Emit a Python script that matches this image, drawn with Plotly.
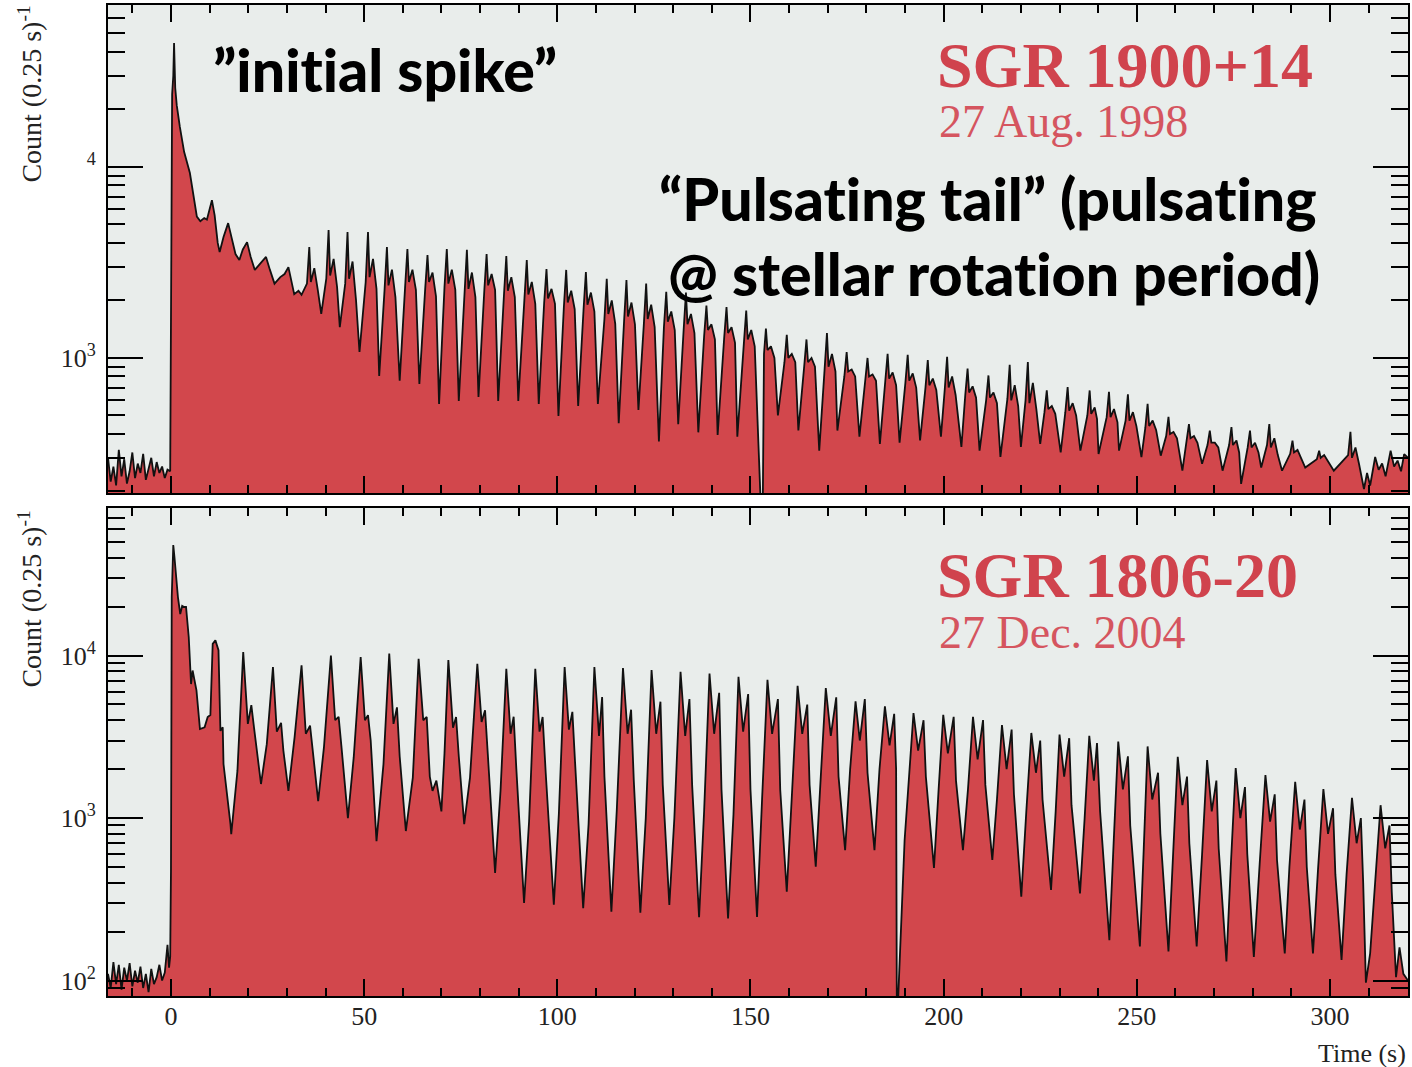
import plotly.graph_objects as go
from plotly.subplots import make_subplots

# ---------------- data ----------------
# SGR 1900+14 (top panel)
top_pre_t = [-16.3, -15.6, -14.9, -14.2, -13.5, -12.8, -12.1, -11.4, -10.7, -10.0, -9.3, -8.6,
             -7.9, -7.2, -6.5, -5.8, -5.1, -4.4, -3.7, -3.0, -2.3, -1.6, -0.9, -0.2]
top_pre_c = [300, 225, 270, 215, 330, 240, 295, 220, 255, 320, 235, 280,
             250, 315, 230, 265, 300, 240, 285, 250, 270, 235, 260, 255]
top_burst_t = [0.0, 0.3, 0.6, 0.8, 1.1, 1.5, 2.3, 3.4, 4.9, 5.8, 6.7, 7.6, 8.6, 9.3, 10.6, 11.3,
               12.1, 12.6, 13.6, 14.8, 15.8, 16.7, 17.7, 18.6, 19.7, 20.6, 21.7, 23.0, 24.6, 25.6,
               26.8, 28.3, 29.4, 30.4, 31.2, 31.9, 33.0, 33.8]
top_burst_c = [1200, 24000, 30000, 44600, 26000, 21000, 16200, 12000, 9300, 7200, 5500, 5200, 5400,
               5300, 6700, 5600, 4000, 3590, 4300, 5080, 4200, 3500, 3260, 3700, 4040, 3400, 2890,
               3100, 3380, 2900, 2450, 2650, 2750, 2990, 2500, 2160, 2250, 2140]
top_pk_t = [35.8, 40.8, 45.7, 51.0, 55.9, 61.2, 66.4, 71.4, 76.6, 81.7, 86.8, 92.1, 97.2, 102.3,
            107.4, 112.8, 117.9, 123.0, 128.2, 133.3, 138.6, 143.8, 148.9, 154.0, 159.4, 164.5,
            169.8, 174.9, 180.3, 185.5, 190.7, 195.9, 200.9, 206.2, 211.6, 217.1, 221.8, 226.7,
            232.1, 237.8, 242.8, 247.7, 252.8, 258.2, 263.5, 268.9, 274.5, 279.3, 284.3, 290.3,
            297.2, 305.3]
top_pk_c = [3810, 4680, 4560, 4560, 3810, 3720, 3460, 3720, 3680, 3500, 3420, 3260, 2920, 2890,
            2820, 2600, 2560, 2450, 2220, 2200, 1880, 1845, 1770, 1425, 1320, 1250, 1350, 1075,
            1000, 1050, 1040, 976, 1015, 880, 810, 920, 953, 676, 705, 676, 664, 645, 576, 492,
            451, 417, 435, 417, 451, 369, 327, 410]
top_rs_t = [35.2, 40.2, 45.1, 50.4, 55.3, 60.6, 65.8, 70.8, 76.0, 81.1, 86.2, 91.5, 96.6, 101.7,
            106.8, 112.2, 117.3, 122.4, 127.6, 132.7, 138.0, 143.2, 148.3, 153.5, 158.8, 163.9,
            169.2, 174.3, 179.7, 184.9, 190.1, 195.3, 200.3, 205.6, 211.0, 216.5, 221.2, 226.1,
            231.5, 237.2, 242.2, 247.1, 252.2, 257.6, 262.9, 268.3, 273.9, 278.7, 283.7, 289.7,
            296.6, 304.7]
top_rs_c = [2450, 2600, 2450, 2500, 2300, 2350, 2300, 2350, 2200, 2250, 2150, 2050, 1950, 1850,
            1800, 1600, 1580, 1500, 1450, 1400, 1300, 1280, 1200, 1050, 950, 900, 880, 800, 760,
            760, 740, 700, 690, 640, 600, 610, 600, 520, 520, 500, 490, 470, 430, 390, 370, 350,
            350, 340, 350, 315, 295, 310]
top_sh1_t = [36.2, 41.2, 46.1, 51.4, 56.3, 61.6, 66.8, 71.8, 77.0, 82.1, 87.2, 92.5, 97.6, 102.7,
             107.8, 113.2, 118.3, 123.4, 128.6, 133.7, 139.0, 144.2, 149.3, 154.4, 159.8, 164.9,
             170.2, 175.3, 180.7, 185.9, 191.1, 196.3, 201.3, 206.6, 212.0, 217.5, 222.2, 227.1,
             232.5, 238.2, 243.2, 248.1, 253.2, 258.6, 263.9, 269.3, 274.9, 279.7, 284.7, 290.7,
             297.6, 305.7]
top_sh1_c = [2500, 2700, 2600, 2650, 2400, 2500, 2500, 2450, 2300, 2400, 2250, 2150, 2050, 1950,
             1900, 1700, 1650, 1600, 1550, 1500, 1400, 1350, 1250, 1100, 1000, 950, 900, 850, 800,
             780, 760, 720, 700, 660, 620, 600, 580, 540, 530, 510, 490, 470, 440, 400, 380, 360,
             350, 340, 340, 320, 300, 300]
top_sp_t = [37.1, 42.1, 47.0, 52.3, 57.2, 62.5, 67.7, 72.7, 77.9, 83.0, 88.1, 93.4, 98.5, 103.6,
            108.7, 114.1, 119.2, 124.3, 129.5, 134.6, 139.9, 145.1, 150.2, 155.3, 160.7, 165.8,
            171.1, 176.2, 181.6, 186.8, 192.0, 197.2, 202.2, 207.5, 212.9, 218.4, 223.1, 228.0,
            233.4, 239.1, 244.1, 249.0, 254.1, 259.5, 264.8, 270.2, 275.8, 280.6, 285.6, 291.6,
            298.5, 306.6]
top_sp_c = [2950, 3300, 3200, 3300, 2900, 2900, 2800, 2900, 2800, 2750, 2650, 2500, 2300, 2250,
            2200, 2000, 1950, 1900, 1750, 1700, 1500, 1450, 1400, 1150, 1050, 1000, 1050, 870, 820,
            840, 830, 780, 800, 710, 660, 720, 740, 560, 580, 550, 540, 520, 470, 410, 390, 360,
            370, 360, 380, 330, 310, 340]
top_sh2_t = [38.0, 43.0, 47.9, 53.2, 58.1, 63.4, 68.6, 73.6, 78.8, 83.9, 89.0, 94.3, 99.4, 104.5,
             109.6, 115.0, 120.1, 125.2, 130.4, 135.5, 140.8, 146.0, 151.1, 156.2, 161.6, 166.7,
             172.0, 177.1, 182.5, 187.7, 192.9, 198.1, 203.1, 208.4, 213.8, 219.3, 224.0, 228.9,
             234.3, 239.7, 245.0, 249.9, 255.0, 260.4, 265.7, 271.1, 276.5, 281.5, 286.5, 292.5,
             299.4, 307.5]
top_sh2_c = [2270, 2350, 2010, 2300, 2085, 2270, 2100, 2270, 2085, 2270, 2085, 1920, 1920, 1800,
             1750, 1510, 1500, 1450, 1400, 1350, 1250, 1200, 1150, 1000, 950, 900, 850, 800, 760,
             720, 700, 680, 640, 620, 580, 560, 540, 510, 500, 480, 460, 440, 420, 380, 360, 340,
             320, 320, 310, 300, 290, 280]
top_tr_t = [38.9, 43.7, 48.8, 53.9, 59.2, 64.3, 69.4, 74.5, 79.6, 84.7, 89.9, 95.2, 100.3, 105.4,
            110.5, 115.9, 121.0, 126.3, 131.3, 136.5, 141.5, 146.6, 151.7, 157.1, 162.4, 167.8,
            172.5, 178.2, 183.5, 188.6, 193.9, 199.3, 204.6, 209.3, 214.7, 220.0, 225.0, 230.3,
            235.4, 240.1, 245.4, 251.2, 256.2, 261.8, 266.9, 272.2, 277.0, 282.2, 287.6, 293.6,
            301.0, 308.8]
top_tr_c = [1700, 1450, 1075, 805, 760, 731, 574, 595, 625, 595, 595, 574, 497, 560, 574, 455,
            535, 365, 450, 408, 395, 387, 540, 500, 417, 327, 417, 387, 355, 360, 370, 387, 342,
            327, 303, 342, 355, 320, 327, 314, 327, 303, 308, 257, 279, 257, 219, 267, 257, 267,
            257, 206]
top_end_t = [152.9, 153.1, 309.6, 310.4, 311.7, 312.6, 313.5, 314.4, 315.7, 316.6, 317.5, 318.4,
             319.2, 320.2]
top_end_c = [100, 100, 250, 215, 303, 260, 280, 240, 327, 270, 290, 255, 314, 300]

# SGR 1806-20 (bottom panel)
bot_pre_t = [-16.3, -15.6, -14.9, -14.2, -13.5, -12.8, -12.1, -11.4, -10.7, -10.0, -9.3, -8.6,
             -7.9, -7.2, -6.5, -5.8, -5.1, -4.4, -3.7, -3.0, -2.3, -1.6, -0.9, -0.5, -0.2]
bot_pre_c = [110, 90, 130, 95, 125, 88, 120, 100, 128, 92, 115, 97, 122, 90, 110, 85, 118, 95,
             105, 125, 100, 112, 166, 120, 140]
bot_burst_t = [0.0, 0.2, 0.6, 0.9, 1.3, 1.8, 2.4, 2.9, 3.4, 3.9, 4.6, 5.2, 5.6, 6.6, 7.5, 8.7,
               9.5, 10.2, 10.8, 11.5, 12.3, 12.8, 13.4, 13.6, 15.4, 15.6, 17.2]
bot_burst_c = [472, 23000, 47900, 40400, 30000, 22900, 18000, 20200, 19900, 19900, 13000, 6680,
               8090, 6100, 3530, 3620, 4190, 4300, 11800, 12400, 10800, 3440, 3620, 2150, 918, 795,
               1950]
bot_pk_t = [18.7, 26.4, 33.8, 41.4, 49.1, 56.5, 64.1, 71.8, 79.3, 86.8, 94.3, 101.9, 109.6, 117.0,
            124.4, 131.9, 139.4, 146.9, 154.4, 162.2, 169.5, 177.2, 184.8, 192.2, 199.9, 207.6,
            215.1, 222.7, 230.0, 237.7, 245.2, 252.8, 260.6, 268.2, 275.6, 283.3, 291.0, 298.3,
            305.7, 313.1]
bot_pk_c = [10500, 8490, 8720, 10000, 9780, 10300, 9540, 9380, 8890, 8280, 8280, 8490, 8490, 8380,
            8150, 7950, 7750, 7400, 7100, 6520, 6310, 5220, 4870, 4430, 4320, 4200, 3730, 3340,
            3260, 3210, 2960, 2760, 2380, 2275, 2030, 1840, 1670, 1510, 1330, 1200]
bot_dp_t = [19.9, 27.4, 34.9, 42.5, 50.2, 57.6, 65.3, 73.0, 80.4, 87.9, 95.4, 103.0, 110.8, 118.2,
            125.6, 133.1, 140.6, 148.1, 155.6, 163.4, 170.8, 178.3, 186.0, 193.4, 201.1, 208.8,
            216.3, 223.9, 231.2, 238.9, 246.4, 254.0, 261.8, 269.4, 276.8, 284.5, 292.2, 299.5,
            306.9, 314.3]
bot_dp_c = [3800, 3400, 3300, 4000, 4000, 3800, 4000, 3600, 3900, 3300, 3400, 3500, 3200, 3300,
            3300, 3200, 3300, 3400, 3300, 3300, 3200, 3000, 2800, 2600, 2500, 2300, 2000, 1900,
            1800, 1700, 1500, 1300, 1200, 1100, 1000, 950, 850, 800, 700, 650]
bot_sc_t = [20.8, 28.5, 36.0, 43.4, 51.0, 58.5, 66.2, 73.8, 81.3, 88.7, 96.2, 103.9, 111.6, 119.1,
            126.7, 134.2, 141.9, 149.4, 157.1, 164.7, 172.2, 179.6, 187.2, 194.8, 202.6, 210.2,
            217.6, 225.0, 232.5, 239.7, 247.7, 255.5, 263.0, 270.6, 278.0, 285.7, 293.4, 300.8,
            308.0, 315.4]
bot_sc_c = [4950, 3850, 3700, 4200, 4300, 4800, 4190, 4190, 4600, 4200, 4190, 4500, 5560, 4640,
            5200, 5400, 5900, 5800, 5400, 4990, 5530, 5400, 4380, 4000, 4200, 4010, 3500, 3000,
            3100, 2890, 2400, 1900, 1800, 1700, 1550, 1400, 1300, 1150, 1000, 900]
bot_dr_t = [21.6, 29.1, 36.7, 44.1, 51.7, 59.2, 67.0, 74.5, 82.0, 89.4, 97.0, 104.6, 112.2, 119.8,
            127.3, 134.9, 142.5, 150.0, 157.7, 165.3, 172.8, 180.3, 187.7, 195.4, 203.2, 210.8,
            218.2, 225.6, 233.1, 240.5, 248.3, 256.1, 263.6, 271.2, 278.6, 286.3, 294.0, 301.4,
            308.6, 316.0]
bot_dr_c = [3440, 2600, 2600, 2800, 3000, 2400, 1800, 2400, 2500, 2000, 1900, 2200, 1800, 1700,
            1600, 1600, 1500, 1500, 1500, 1600, 1800, 1900, 2000, 1800, 1700, 1600, 1400, 1300,
            1200, 1100, 900, 800, 700, 650, 600, 550, 500, 450, 400, 350]
bot_tr_t = [23.3, 30.4, 38.1, 45.8, 53.2, 60.8, 70.0, 75.9, 83.9, 91.4, 99.1, 106.7, 114.0, 121.5,
            129.0, 136.7, 144.2, 151.7, 159.4, 166.9, 174.5, 182.1, 189.9, 197.5, 205.0, 212.6,
            220.1, 227.8, 235.3, 242.9, 250.8, 258.2, 265.5, 273.2, 280.3, 288.3, 295.6, 303.0,
            310.4, 317.1]
bot_tr_c = [1620, 1470, 1270, 1000, 721, 832, 1100, 918, 460, 300, 293, 279, 265, 262, 292, 245,
            241, 246, 352, 502, 635, 635, 733, 493, 635, 552, 328, 361, 344, 177, 162, 151, 162,
            131, 140, 147, 147, 134, 147, 105]
bot_rs_t = [24.8, 32.0, 39.6, 47.3, 55.0, 62.6, 70.8, 77.4, 85.3, 92.7, 100.4, 108.1, 115.4, 122.9,
            130.3, 138.0, 145.6, 153.0, 160.8, 168.2, 175.8, 183.4, 191.0, 198.7, 206.3, 213.8,
            221.4, 229.0, 236.5, 244.0, 251.8, 259.4, 266.9, 274.4, 281.8, 289.5, 296.9, 304.3,
            311.7]
bot_rs_c = [2850, 3150, 2730, 2360, 2140, 1775, 2500, 1775, 1470, 960, 1060, 920, 1125, 1000, 1000,
            1100, 1050, 1300, 1500, 1800, 2000, 2000, 1800, 1500, 1500, 1300, 1100, 1100, 1000,
            700, 650, 600, 600, 550, 520, 500, 480, 450, 420]
bot_extra_t = [67.7, 68.7, 187.8, 187.9, 309.3, 318.0, 319.0, 320.2]
bot_extra_c = [1470, 1700, 50, 50, 97, 160, 110, 100]

x_ticks = [0, 50, 100, 150, 200, 250, 300]


def merge(*pairs):
    pts = []
    for t, c in pairs:
        pts.extend(zip(t, c))
    pts.sort(key=lambda p: p[0])
    return [p[0] for p in pts], [p[1] for p in pts]


top_t, top_c = merge((top_pre_t, top_pre_c), (top_burst_t, top_burst_c), (top_pk_t, top_pk_c),
                     (top_rs_t, top_rs_c), (top_sh1_t, top_sh1_c), (top_sp_t, top_sp_c),
                     (top_sh2_t, top_sh2_c), (top_tr_t, top_tr_c), (top_end_t, top_end_c))
bot_t, bot_c = merge((bot_pre_t, bot_pre_c), (bot_burst_t, bot_burst_c), (bot_pk_t, bot_pk_c),
                     (bot_dp_t, bot_dp_c), (bot_sc_t, bot_sc_c), (bot_dr_t, bot_dr_c),
                     (bot_tr_t, bot_tr_c), (bot_rs_t, bot_rs_c), (bot_extra_t, bot_extra_c))

FILL = "#d2474c"
BG = "#e9edeb"
SERIF = "Liberation Serif"
SANS = "Lato Black, Lato"
INK = "#111111"

fig = make_subplots(rows=2, cols=1, shared_xaxes=False, vertical_spacing=0.0)

fig.add_trace(go.Scatter(x=top_t, y=top_c, mode="lines", fill="tozeroy", fillcolor=FILL,
                         line=dict(color=INK, width=1.8), showlegend=False), row=1, col=1)
fig.add_trace(go.Scatter(x=bot_t, y=bot_c, mode="lines", fill="tozeroy", fillcolor=FILL,
                         line=dict(color=INK, width=1.8), showlegend=False), row=2, col=1)

H_PLOT = 991.0
top_dom = [(H_PLOT - 488) / H_PLOT, 1.0]
bot_dom = [0.0, 488 / H_PLOT]


def minor_vals(lo, hi):
    vals = []
    for e in range(0, 6):
        for m in range(2, 10):
            v = m * 10 ** e
            if lo <= v <= hi:
                vals.append(v)
    return vals


common_x = dict(range=[-16.3, 320.2], showline=True, linecolor="black", linewidth=2,
                mirror="allticks", ticks="inside", ticklen=17, tickwidth=1.5, tickcolor="black",
                tickvals=x_ticks, showgrid=False, zeroline=False,
                minor=dict(ticks="inside", ticklen=8, tickwidth=1.5, tickcolor="black", dtick=10,
                           tick0=0, showgrid=False),
                tickfont=dict(family=SERIF, size=26, color="#222"))
fig.update_xaxes(**common_x)
fig.update_xaxes(showticklabels=False, row=1, col=1)
fig.update_xaxes(ticklabelstandoff=-4, row=2, col=1)

common_y = dict(type="log", showline=True, linecolor="black", linewidth=2, mirror="allticks",
                ticks="inside", ticklen=35, tickwidth=1.5, tickcolor="black", showgrid=False,
                zeroline=False, tickfont=dict(family=SERIF, size=26, color="#222"),
                ticklabelstandoff=5)
fig.update_yaxes(**common_y)
fig.update_yaxes(range=[2.293, 4.848], tickvals=[1000, 10000],
                 ticktext=["10<sup>3</sup>", "<sup>4</sup>"],
                 minor=dict(ticks="inside", ticklen=17, tickwidth=1.5, tickcolor="black",
                            tickvals=minor_vals(196, 70500), showgrid=False),
                 domain=top_dom, row=1, col=1)
fig.update_yaxes(range=[1.905, 4.908], tickvals=[100, 1000, 10000],
                 ticktext=["10<sup>2</sup>", "10<sup>3</sup>", "10<sup>4</sup>"],
                 minor=dict(ticks="inside", ticklen=17, tickwidth=1.5, tickcolor="black",
                            tickvals=minor_vals(81, 81000), showgrid=False),
                 domain=bot_dom, row=2, col=1)


def px(xp):
    return (xp - 108) / 1302.0


def py(yp):
    return (996 - yp) / H_PLOT


ZW = "\u200c"  # break the "ti" ligature
ann = []
ann.append(dict(text="”ini" + "t" + ZW + "ial spike”", x=px(211), y=py(70), xanchor="left",
                yanchor="middle", font=dict(family=SANS, size=59, color="black", weight=900)))
ann.append(dict(text="“Pulsa" + "t" + ZW + "ing tail” (pulsa" + "t" + ZW + "ing", x=px(1321),
                y=py(236), xanchor="right", yanchor="bottom",
                font=dict(family=SANS, size=59, color="black", weight=900)))
ann.append(dict(text="@ stellar rota" + "t" + ZW + "ion period)", x=px(1324), y=py(236),
                xanchor="right", yanchor="top",
                font=dict(family=SANS, size=59, color="black", weight=900)))
ann.append(dict(text="<b>SGR 1900+14</b>", x=px(936), y=py(66), xanchor="left", yanchor="middle",
                font=dict(family=SERIF, size=64, color="#d0434d")))
ann.append(dict(text="27 Aug. 1998", x=px(938), y=py(121), xanchor="left", yanchor="middle",
                font=dict(family=SERIF, size=46, color="#d5555f")))
ann.append(dict(text="<b>SGR 1806-20</b>", x=px(936), y=py(575), xanchor="left", yanchor="middle",
                font=dict(family=SERIF, size=64, color="#d0434d")))
ann.append(dict(text="27 Dec. 2004", x=px(938), y=py(632), xanchor="left", yanchor="middle",
                font=dict(family=SERIF, size=46, color="#d5555f")))
for ytop in (4, 509):
    ann.append(dict(text="Count (0.25 s)<sup>-1</sup>", x=px(30), y=py(ytop), xanchor="center",
                    yanchor="top", textangle=-90,
                    font=dict(family=SERIF, size=28, color="#222")))
ann.append(dict(text="Time (s)", x=px(1410), y=py(1053), xanchor="right", yanchor="middle",
                font=dict(family=SERIF, size=26, color="#222")))
for a in ann:
    a.update(xref="paper", yref="paper", showarrow=False)

fig.update_layout(width=1412, height=1067, margin=dict(l=108, r=2, t=5, b=71),
                  paper_bgcolor="white", plot_bgcolor=BG, annotations=ann, showlegend=False)

fig.write_html("out.html")
